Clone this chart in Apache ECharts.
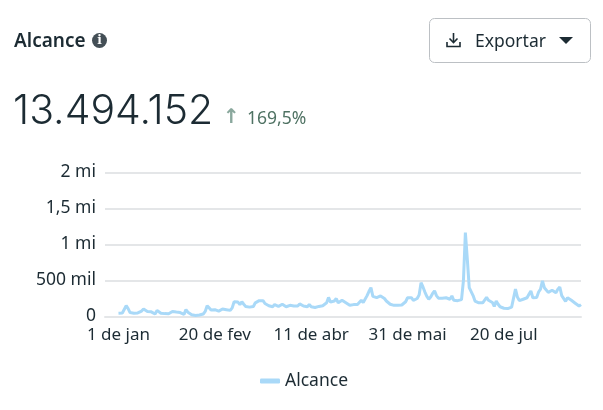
<!DOCTYPE html>
<html><head><meta charset="utf-8">
<style>html,body{margin:0;padding:0;background:#fff}#c{width:603px;height:410px}</style>
<script src="https://cdn.jsdelivr.net/npm/echarts@6/dist/echarts.min.js"></script>
</head><body><div id="c"></div>
<script>
const seriesName = 'Alcance';
const totalText = '13.494.152';
const changeText = '169,5%';
const exportText = 'Exportar';
const xTickLabels = ['1 de jan','20 de fev','11 de abr','31 de mai','20 de jul'];
const yTickLabels = ['0','500 mil','1 mi','1,5 mi','2 mi'];
const yTickValues = [0,500,1000,1500,2000];
// daily reach, thousands
const reach = [
45,50,48,62,150,110,55,32,45,65,
50,40,75,105,90,70,85,65,75,35,
85,60,45,30,40,28,38,55,70,65,
62,75,55,72,30,95,60,35,25,20,
15,18,20,25,35,70,150,120,90,95,
95,80,75,90,105,100,95,90,85,120,
205,180,200,165,205,170,140,150,130,115,
140,190,215,220,200,220,180,160,150,140,
135,165,160,140,155,170,150,135,120,155,
150,145,130,145,175,180,145,150,135,165,
135,130,125,135,140,140,150,145,190,265,
200,185,215,250,190,180,225,215,190,170,
155,160,165,180,165,190,225,195,190,290,
350,400,280,255,262,255,285,295,250,215,
190,170,160,155,150,155,155,160,175,205,
260,245,262,225,220,250,300,470,410,340,
280,240,270,320,355,290,255,265,255,250,
260,265,240,285,225,235,220,225,235,500,
1165,800,400,345,290,215,195,190,200,190,
205,265,225,215,195,140,215,170,135,125,
115,105,110,125,130,155,380,270,220,230,
240,255,260,310,355,260,275,265,340,380,
495,400,385,335,330,365,360,330,380,410,
290,270,210,260,240,225,205,185,165,145,165
];
const leadPad = 7, labelStep = 50;
const categories = new Array(leadPad + reach.length).fill('');
xTickLabels.forEach((t,k)=>{categories[leadPad+k*labelStep]=t;});
const values = new Array(leadPad).fill(null).concat(reach);

const font = '"Noto Sans", sans-serif';
const ink = '#1c2b33';
const chart = echarts.init(document.getElementById('c'),null,{renderer:'canvas'});
chart.setOption({
  animation:false,
  textStyle:{fontFamily:font},
  grid:{left:105,right:22,top:172.5,bottom:93.5,containLabel:false},
  legend:{
    data:[{name:seriesName,icon:'roundRect'}],
    left:255,top:367,itemWidth:20,itemHeight:5,itemGap:11,
    textStyle:{fontSize:17.5,color:ink,fontFamily:font}
  },
  xAxis:{
    type:'category',data:categories,boundaryGap:false,
    axisLine:{show:true,lineStyle:{color:'#e4e6e8',width:2}},
    axisTick:{show:false},splitLine:{show:false},
    axisLabel:{interval:(i,v)=>v!=='',color:ink,fontSize:17,margin:10,hideOverlap:false,showMinLabel:true}
  },
  yAxis:{
    type:'value',min:0,max:2000,interval:500,
    axisLine:{show:false},axisTick:{show:false},
    splitLine:{lineStyle:{color:'#e4e6e8',width:2}},
    axisLabel:{color:ink,fontSize:17.5,margin:9,padding:[5,0,0,0],formatter:v=>yTickLabels[yTickValues.indexOf(v)]}
  },
  series:[{
    name:seriesName,type:'line',data:values,showSymbol:false,connectNulls:false,
    lineStyle:{color:'#a9d9f8',width:3},itemStyle:{color:'#a9d9f8'},smooth:false
  }],
  graphic:[
    {type:'text',left:14,top:32,style:{text:seriesName,font:'600 19px '+font,fill:ink}},
    {type:'circle',shape:{cx:99.5,cy:40.5,r:7.5},style:{fill:'#444f56'}},
    {type:'text',x:99.5,y:40.5,style:{text:'i',font:'bold 12px "DejaVu Serif", serif',fill:'#fff',textAlign:'center',textVerticalAlign:'middle'}},
    {type:'text',left:13,top:91,style:{text:totalText,font:'300 41px Inter, '+font,fill:ink}},
    {type:'text',left:223,top:108,style:{text:'↑',font:'bold 20px "DejaVu Sans", sans-serif',fill:'#8aa89d'}},
    {type:'text',left:247,top:110,style:{text:changeText,font:'17.5px '+font,fill:'#4f7263'}},
    {type:'rect',shape:{x:429.5,y:18.5,width:161,height:44,r:5},style:{fill:'#fff',stroke:'#bcc0c4',lineWidth:1}},
    {type:'polyline',shape:{points:[[453.5,33],[453.5,42]]},style:{stroke:ink,lineWidth:1.6,fill:null}},
    {type:'polyline',shape:{points:[[449.5,38.5],[453.5,42.5],[457.5,38.5]]},style:{stroke:ink,lineWidth:1.6,fill:null}},
    {type:'polyline',shape:{points:[[447,42],[447,46.5],[460,46.5],[460,42]]},style:{stroke:ink,lineWidth:1.6,fill:null}},
    {type:'text',left:475,top:33,style:{text:exportText,font:'17.5px '+font,fill:ink}},
    {type:'polygon',shape:{points:[[559,37],[573,37],[566,44]]},style:{fill:ink}}
  ]
});
</script></body></html>
